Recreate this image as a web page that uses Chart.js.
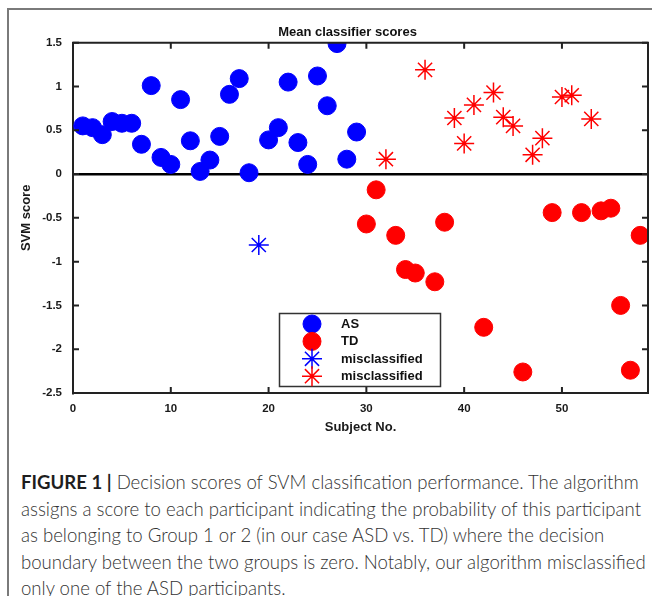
<!DOCTYPE html>
<html>
<head>
<meta charset="utf-8">
<script src="https://cdn.jsdelivr.net/npm/chart.js@4.4.1/dist/chart.umd.min.js"></script>
<style>
html,body{margin:0;padding:0;background:#fff;width:652px;height:596px;overflow:hidden;}
#frame{position:absolute;left:7px;top:8px;width:700px;height:700px;border-top:2px solid #7a7a7a;border-left:2px solid #7a7a7a;}
#chart{position:absolute;left:0;top:0;}
#caption{position:absolute;left:21px;top:469px;font-family:"Lato","Roboto","Liberation Sans",sans-serif;font-weight:300;color:#333;white-space:nowrap;font-size:20px;}
#caption div{height:26.6px;line-height:26.6px;}
#caption b{color:#1e1e1e;font-weight:700;}
</style>
</head>
<body>
<div id="frame"></div>
<canvas id="chart" width="652" height="440"></canvas>
<div id="caption">
<div><b>FIGURE 1 |</b> Decision scores of SVM classification performance. The algorithm</div>
<div><span id="fitline">assigns a score to each participant indicating the probability of this participant</span></div>
<div>as belonging to Group 1 or 2 (in our case ASD vs. TD) where the decision</div>
<div>boundary between the two groups is zero. Notably, our algorithm misclassified</div>
<div>only one of the ASD participants.</div>
</div>
<script>
// ---- data ----
const asSubjects = [1,2,3,4,5,6,7,8,9,10,11,12,13,14,15,16,17,18,20,21,22,23,24,25,26,27,28,29];
const asScores   = [0.55,0.53,0.45,0.60,0.58,0.58,0.34,1.01,0.19,0.11,0.85,0.38,0.03,0.16,0.43,0.91,1.09,0.015,0.39,0.53,1.05,0.36,0.11,1.12,0.78,1.49,0.17,0.48];

const tdSubjects = [30,31,33,34,35,37,38,42,46,49,52,54,55,56,57,58];
const tdScores   = [-0.57,-0.18,-0.70,-1.09,-1.13,-1.23,-0.55,-1.75,-2.26,-0.44,-0.44,-0.42,-0.39,-1.50,-2.24,-0.70];

const asMisSubjects = [19];
const asMisScores   = [-0.81];

const tdMisSubjects = [32,36,39,40,41,43,44,45,47,48,50,51,53];
const tdMisScores   = [0.17,1.19,0.64,0.35,0.79,0.93,0.65,0.55,0.22,0.41,0.88,0.90,0.63];

const seriesLabels = ['AS','TD','misclassified','misclassified'];
const chartTitle = 'Mean classifier scores';
const xTitle = 'Subject No.';
const yTitle = 'SVM score';

function pts(xs, ys){ return xs.map((x,i)=>({x:x, y:ys[i]})); }

const FONT = '"Liberation Sans", Arial, sans-serif';

const decor = {
  id:'decor',
  afterDraw(chart){
    const {ctx, chartArea:a, scales:{x,y}} = chart;
    ctx.save();
    // top & right box lines
    ctx.strokeStyle = '#222'; ctx.lineWidth = 2;
    ctx.beginPath();
    ctx.moveTo(a.left-1, a.top); ctx.lineTo(a.right, a.top); ctx.lineTo(a.right, a.bottom+1);
    ctx.stroke();
    // inward ticks on all four sides
    const L = 6;
    ctx.beginPath();
    x.ticks.forEach(t=>{ const p = x.getPixelForValue(t.value);
      ctx.moveTo(p, a.bottom); ctx.lineTo(p, a.bottom-L);
      ctx.moveTo(p, a.top); ctx.lineTo(p, a.top+L); });
    y.ticks.forEach(t=>{ const p = y.getPixelForValue(t.value);
      ctx.moveTo(a.left, p); ctx.lineTo(a.left+L, p);
      ctx.moveTo(a.right, p); ctx.lineTo(a.right-L, p); });
    ctx.stroke();
    // title
    ctx.fillStyle = '#111';
    ctx.font = 'bold 13px ' + FONT;
    ctx.textAlign = 'center'; ctx.textBaseline = 'middle';
    ctx.fillText(chartTitle, 347.5, 32.5);
    // legend
    const bx = 279.5, by = 313.5, bw = 161, bh = 73;
    ctx.fillStyle = '#fff'; ctx.fillRect(bx, by, bw, bh);
    ctx.strokeStyle = '#333'; ctx.lineWidth = 1.5;
    ctx.strokeRect(bx, by, bw, bh);
    chart.data.datasets.forEach((ds, i)=>{
      const cy = by + 10.5 + i*17.4;
      const cx = 312;
      ctx.fillStyle = ds.pointBackgroundColor;
      ctx.strokeStyle = ds.pointBorderColor;
      ctx.lineWidth = ds.pointBorderWidth;
      Chart.helpers.drawPoint(ctx, {pointStyle: ds.pointStyle, radius: ds.pointStyle==='star'?10:9, borderWidth: ds.pointBorderWidth, rotation:0}, cx, cy);
      ctx.fillStyle = '#111';
      ctx.font = 'bold 13px ' + FONT;
      ctx.textAlign = 'left'; ctx.textBaseline = 'middle';
      ctx.fillText(ds.label, 341, cy+0.5);
    });
    ctx.restore();
  }
};

const plainNum = (v)=> String(Number(Number(v).toFixed(3)));

new Chart(document.getElementById('chart'), {
  type: 'scatter',
  data: {
    datasets: [
      {label: seriesLabels[0], data: pts(asSubjects, asScores), pointStyle:'circle', pointRadius:9, pointBorderWidth:1, pointBackgroundColor:'#0000ff', pointBorderColor:'#0000ff'},
      {label: seriesLabels[1], data: pts(tdSubjects, tdScores), pointStyle:'circle', pointRadius:9, pointBorderWidth:1, pointBackgroundColor:'#ff0000', pointBorderColor:'#ff0000'},
      {label: seriesLabels[2], data: pts(asMisSubjects, asMisScores), pointStyle:'star', pointRadius:10, pointBorderWidth:1.5, pointBackgroundColor:'#0000ff', pointBorderColor:'#0000ff'},
      {label: seriesLabels[3], data: pts(tdMisSubjects, tdMisScores), pointStyle:'star', pointRadius:10, pointBorderWidth:1.5, pointBackgroundColor:'#ff0000', pointBorderColor:'#ff0000'}
    ]
  },
  options: {
    responsive:false, animation:false, events:[],
    layout:{autoPadding:false, padding:{left:0, top:42.7, right:4, bottom:0}},
    plugins:{legend:{display:false}, tooltip:{enabled:false}, title:{display:false}},
    scales:{
      x:{
        type:'linear', min:0, max:58.8,
        ticks:{stepSize:10, includeBounds:false, padding:9, color:'#1a1a1a', font:{family:FONT, size:11.5, weight:'bold'}, callback: plainNum},
        grid:{display:false, drawTicks:false},
        border:{display:true, color:'#222', width:2},
        title:{display:true, text:xTitle, color:'#1a1a1a', font:{family:FONT, size:13, weight:'bold'}, padding:{top:0, bottom:5}},
        afterFit(s){ s.height = 47; s.paddingLeft = 0; s.paddingRight = 0; }
      },
      y:{
        type:'linear', min:-2.5, max:1.5,
        ticks:{stepSize:0.5, padding:11, color:'#1a1a1a', font:{family:FONT, size:11.5, weight:'bold'}, callback: plainNum},
        grid:{display:true, drawOnChartArea:true, drawTicks:false, lineWidth:2.5,
              color:(c)=> (c.tick && c.tick.value===0) ? '#000' : 'rgba(0,0,0,0)'},
        border:{display:true, color:'#222', width:2},
        title:{display:true, text:yTitle, color:'#1a1a1a', font:{family:FONT, size:13, weight:'bold'}, padding:{top:19, bottom:0}},
        afterFit(s){ s.width = 73; s.paddingTop = 0; s.paddingBottom = 0; }
      }
    }
  },
  plugins:[decor]
});

// fit caption font so the second line spans the measured width
(function(){
  const cap = document.getElementById('caption');
  const span = document.getElementById('fitline');
  const w = span.getBoundingClientRect().width;
  const size = 20 * 620 / w;
  cap.style.fontSize = size.toFixed(2) + 'px';
})();
</script>
</body>
</html>
